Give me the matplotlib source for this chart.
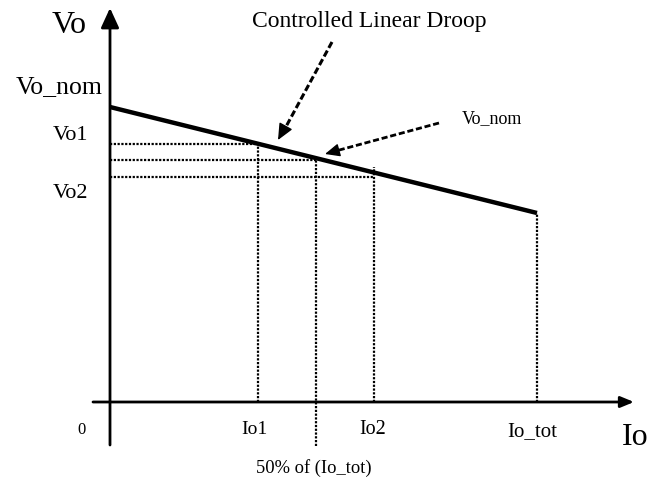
import matplotlib.pyplot as plt

plt.rcParams["font.family"] = ["Liberation Serif", "DejaVu Serif"]

# droop characteristic, in drawing units (origin at the axes crossing)
io_droop = [0, 427]
vo_droop = [295, 189]

# operating points
io1, io_half, io2, io_tot = 148, 206, 264, 427
vo1, vo_half, vo2 = 258, 242, 225
io2_top = 235

fig = plt.figure(figsize=(6.5, 4.83), dpi=100)
ax = fig.add_axes([0, 0, 1, 1])
ax.set_xlim(-110, 540)
ax.set_ylim(-81, 402)
ax.axis("off")

# axes with arrow heads
ax.annotate("", xy=(0, 394), xytext=(0, -43),
            arrowprops=dict(arrowstyle="-|>,head_length=1.2,head_width=0.55",
                            lw=2, color="black", shrinkA=0, shrinkB=0))
ax.annotate("", xy=(524, 0), xytext=(-17, 0),
            arrowprops=dict(arrowstyle="-|>,head_length=0.8,head_width=0.33",
                            lw=2, color="black", shrinkA=0, shrinkB=0))

# droop line
ax.plot(io_droop, vo_droop, color="black", lw=3.2, solid_capstyle="butt")

# dotted guides
dot = dict(color="black", lw=1.6, linestyle=(0, (1, 0.7)))
ax.plot([0, io1], [vo1, vo1], **dot)
ax.plot([0, io_half], [vo_half, vo_half], **dot)
ax.plot([0, io2], [vo2, vo2], **dot)
ax.plot([io1, io1], [0, vo1 + 2], **dot)
ax.plot([io_half, io_half], [-44, vo_half], **dot)
ax.plot([io2, io2], [0, io2_top], **dot)
ax.plot([io_tot, io_tot], [0, vo_droop[1]], **dot)

# dashed callout arrows
ax.plot([222, 172], [360, 268], color="black", lw=2.2, linestyle=(0, (2.2, 1)))
ax.annotate("", xy=(168, 262), xytext=(173, 271),
            arrowprops=dict(arrowstyle="-|>,head_length=1.0,head_width=0.45",
                            lw=1, color="black", shrinkA=0, shrinkB=0))
ax.plot([329, 222], [279, 250], color="black", lw=2.0, linestyle=(0, (2.2, 1)))
ax.annotate("", xy=(215, 248), xytext=(224, 250.5),
            arrowprops=dict(arrowstyle="-|>,head_length=0.9,head_width=0.4",
                            lw=1, color="black", shrinkA=0, shrinkB=0))

# labels
ax.text(-41, 369, "Vo", fontsize=23, ha="center", va="baseline")
ax.text(-7, 309, "Vo_nom", fontsize=18.5, ha="right", va="baseline")
ax.text(-22, 262, "Vo1", fontsize=16, ha="right", va="baseline")
ax.text(-22, 204, "Vo2", fontsize=16, ha="right", va="baseline")
ax.text(259, 375, "Controlled Linear Droop", fontsize=17, ha="center", va="baseline")
ax.text(352, 279, "Vo_nom", fontsize=13, ha="left", va="baseline")
ax.text(-29, -32, "0", fontsize=12, ha="center", va="baseline")
ax.text(144, -32, "Io1", fontsize=14, ha="center", va="baseline")
ax.text(263, -32, "Io2", fontsize=14.5, ha="center", va="baseline")
ax.text(422, -34, "Io_tot", fontsize=15, ha="center", va="baseline")
ax.text(512, -43, "Io", fontsize=23, ha="left", va="baseline")
ax.text(204, -71, "50% of (Io_tot)", fontsize=13.3, ha="center", va="baseline")

fig.savefig("out.png", dpi=100)
